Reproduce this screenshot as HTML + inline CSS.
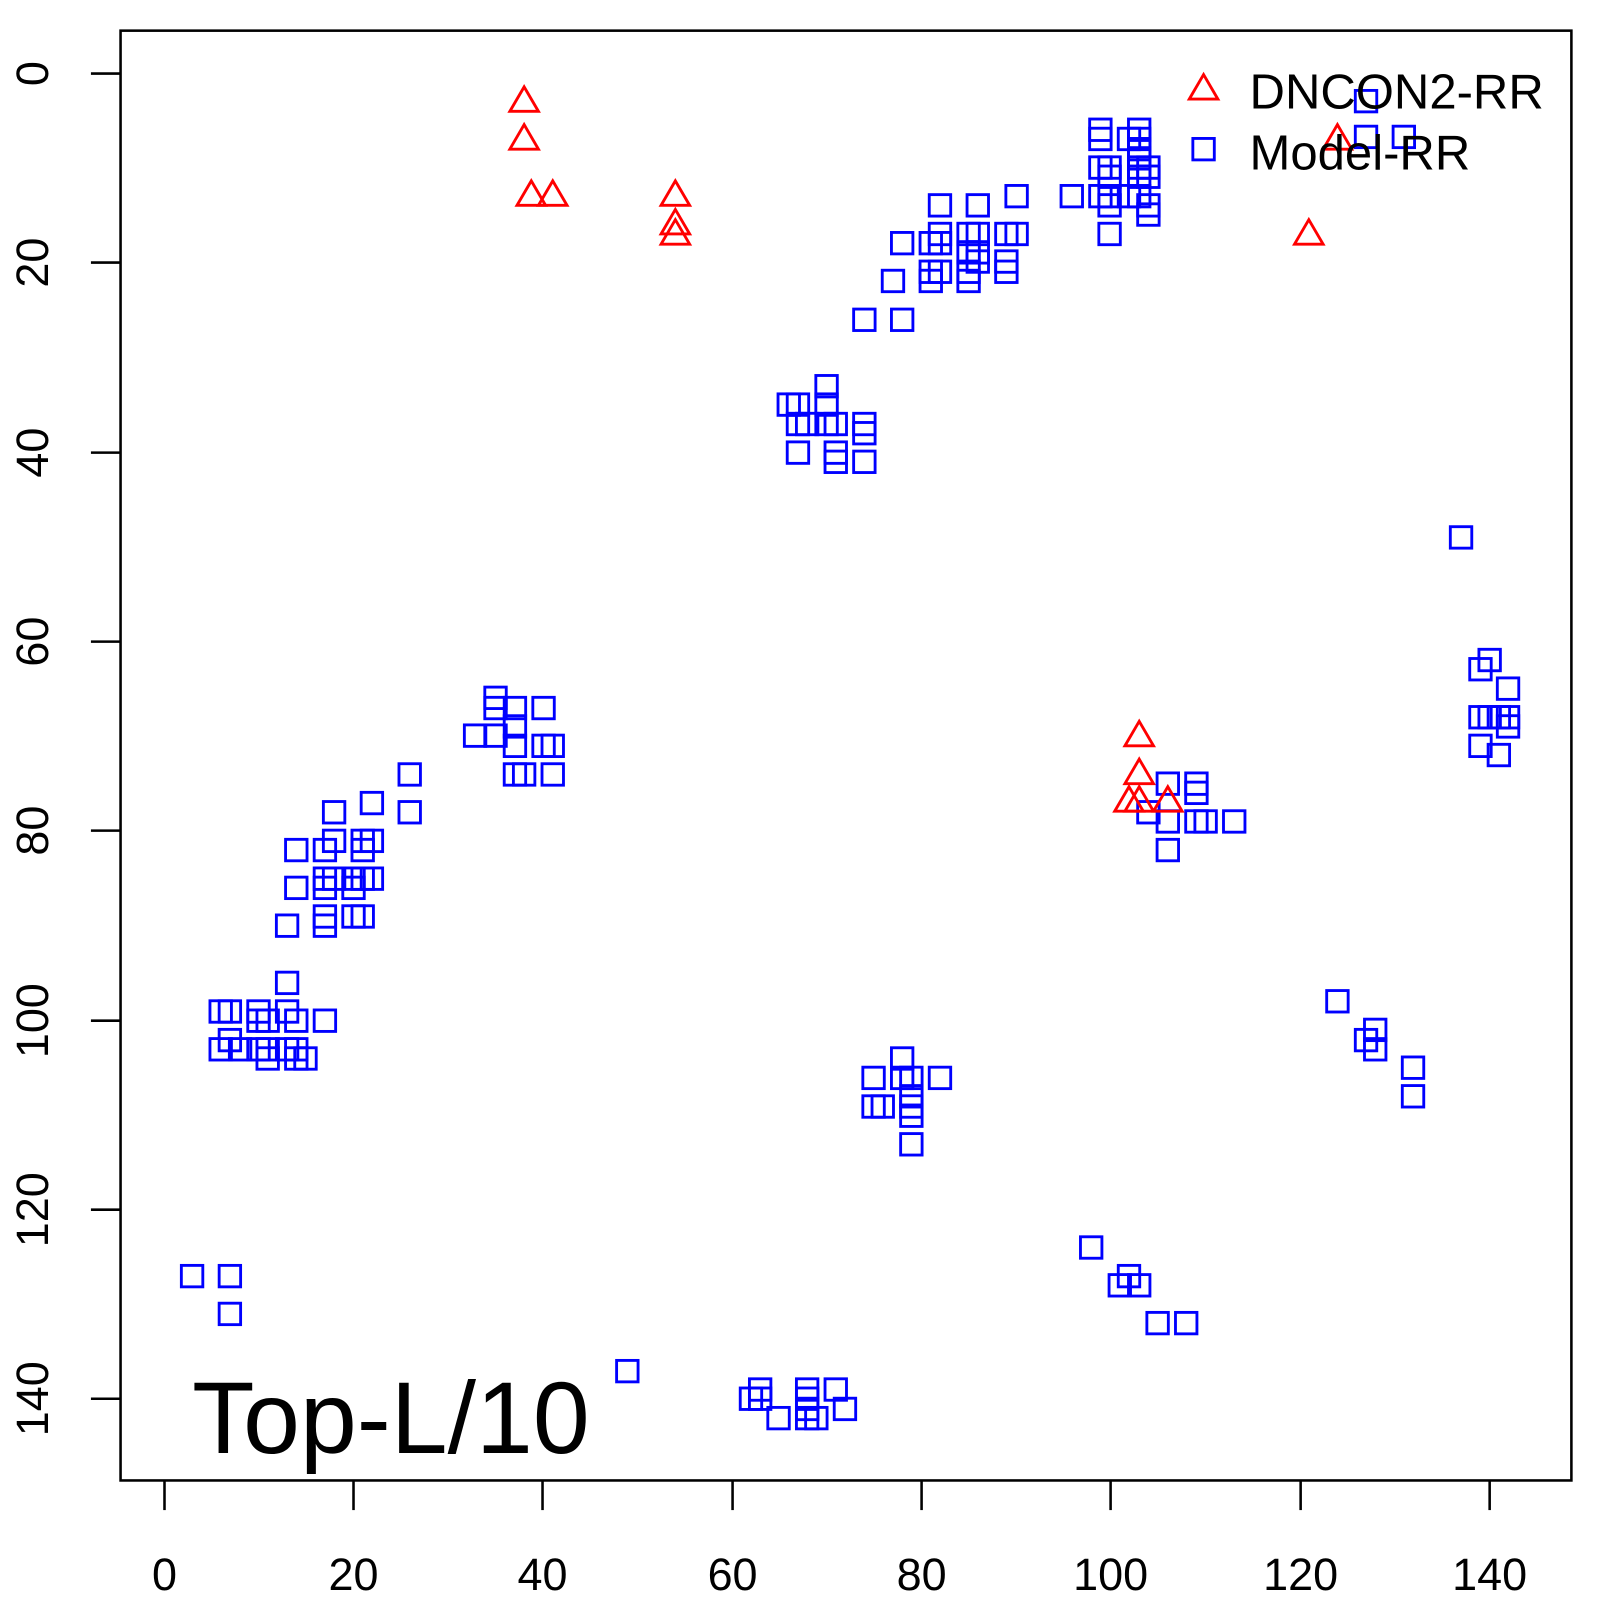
<!DOCTYPE html>
<html><head><meta charset="utf-8"><style>html,body{margin:0;padding:0;background:#fff}svg{display:block}</style></head>
<body>
<svg xmlns="http://www.w3.org/2000/svg" width="1600" height="1600" viewBox="0 0 1566 1566" font-family="Liberation Sans, sans-serif">
<rect x="118" y="30" width="1420" height="1419" fill="none" stroke="#000" stroke-width="2.5"/>
<g stroke="#000" stroke-width="2.5">
<line x1="161" y1="1449" x2="161" y2="1478"/><line x1="346" y1="1449" x2="346" y2="1478"/><line x1="531" y1="1449" x2="531" y2="1478"/><line x1="717" y1="1449" x2="717" y2="1478"/><line x1="902" y1="1449" x2="902" y2="1478"/><line x1="1087" y1="1449" x2="1087" y2="1478"/><line x1="1273" y1="1449" x2="1273" y2="1478"/><line x1="1458" y1="1449" x2="1458" y2="1478"/>
<line x1="118" y1="72" x2="89" y2="72"/><line x1="118" y1="257" x2="89" y2="257"/><line x1="118" y1="443" x2="89" y2="443"/><line x1="118" y1="628" x2="89" y2="628"/><line x1="118" y1="813" x2="89" y2="813"/><line x1="118" y1="999" x2="89" y2="999"/><line x1="118" y1="1184" x2="89" y2="1184"/><line x1="118" y1="1369" x2="89" y2="1369"/>
</g>
<g font-size="44" text-anchor="middle" fill="#000">
<text x="161" y="1556">0</text><text x="346" y="1556">20</text><text x="531" y="1556">40</text><text x="717" y="1556">60</text><text x="902" y="1556">80</text><text x="1087" y="1556">100</text><text x="1273" y="1556">120</text><text x="1458" y="1556">140</text>
<text transform="translate(47,72) rotate(-90)">0</text><text transform="translate(47,257) rotate(-90)">20</text><text transform="translate(47,443) rotate(-90)">40</text><text transform="translate(47,628) rotate(-90)">60</text><text transform="translate(47,813) rotate(-90)">80</text><text transform="translate(47,999) rotate(-90)">100</text><text transform="translate(47,1184) rotate(-90)">120</text><text transform="translate(47,1369) rotate(-90)">140</text>
</g>
<text x="188" y="1422" font-size="100">Top-L/10</text>
<defs>
<rect id="s" x="-10.5" y="-10.5" width="21" height="21" fill="none" stroke="#00f" stroke-width="2.8"/>
<path id="t" d="M0,-14 L14,10 L-14,10 Z" fill="none" stroke="#f00" stroke-width="2.8"/>
</defs>
<g>
<use href="#s" x="1077" y="127"/><use href="#s" x="1077" y="136"/><use href="#s" x="1086" y="164"/><use href="#s" x="1086" y="173"/><use href="#s" x="1077" y="164"/><use href="#s" x="1077" y="192"/><use href="#s" x="1086" y="192"/><use href="#s" x="1049" y="192"/><use href="#s" x="1086" y="201"/><use href="#s" x="1086" y="229"/><use href="#s" x="1105" y="136"/><use href="#s" x="1115" y="127"/><use href="#s" x="1115" y="136"/><use href="#s" x="1115" y="146"/><use href="#s" x="1115" y="155"/><use href="#s" x="1115" y="164"/><use href="#s" x="1115" y="173"/><use href="#s" x="1124" y="164"/><use href="#s" x="1124" y="173"/><use href="#s" x="1124" y="201"/><use href="#s" x="1124" y="210"/><use href="#s" x="1115" y="192"/><use href="#s" x="1105" y="192"/>
<use href="#s" x="920" y="201"/><use href="#s" x="957" y="201"/><use href="#s" x="995" y="192"/><use href="#s" x="920" y="229"/><use href="#s" x="920" y="238"/><use href="#s" x="948" y="229"/><use href="#s" x="957" y="229"/><use href="#s" x="948" y="247"/><use href="#s" x="948" y="266"/><use href="#s" x="957" y="247"/><use href="#s" x="957" y="256"/><use href="#s" x="911" y="238"/><use href="#s" x="911" y="266"/><use href="#s" x="911" y="275"/><use href="#s" x="920" y="266"/><use href="#s" x="948" y="275"/><use href="#s" x="985" y="229"/><use href="#s" x="995" y="229"/><use href="#s" x="985" y="256"/><use href="#s" x="985" y="266"/><use href="#s" x="883" y="238"/><use href="#s" x="874" y="275"/><use href="#s" x="846" y="313"/><use href="#s" x="883" y="313"/>
<use href="#s" x="772" y="396"/><use href="#s" x="781" y="396"/><use href="#s" x="781" y="415"/><use href="#s" x="781" y="443"/><use href="#s" x="809" y="378"/><use href="#s" x="809" y="396"/><use href="#s" x="809" y="415"/><use href="#s" x="818" y="415"/><use href="#s" x="818" y="443"/><use href="#s" x="818" y="452"/><use href="#s" x="846" y="415"/><use href="#s" x="846" y="424"/><use href="#s" x="846" y="452"/><use href="#s" x="790" y="415"/>
<use href="#s" x="1337" y="99"/><use href="#s" x="1337" y="134"/><use href="#s" x="1374" y="134"/>
<use href="#s" x="1430" y="526"/><use href="#s" x="1458" y="646"/><use href="#s" x="1449" y="655"/><use href="#s" x="1476" y="674"/><use href="#s" x="1449" y="702"/><use href="#s" x="1458" y="702"/><use href="#s" x="1467" y="702"/><use href="#s" x="1476" y="702"/><use href="#s" x="1449" y="730"/><use href="#s" x="1467" y="739"/><use href="#s" x="1476" y="711"/>
<use href="#s" x="1143" y="767"/><use href="#s" x="1171" y="767"/><use href="#s" x="1171" y="776"/><use href="#s" x="1124" y="795"/><use href="#s" x="1143" y="804"/><use href="#s" x="1171" y="804"/><use href="#s" x="1180" y="804"/><use href="#s" x="1208" y="804"/><use href="#s" x="1143" y="832"/>
<use href="#s" x="485" y="683"/><use href="#s" x="485" y="693"/><use href="#s" x="504" y="693"/><use href="#s" x="532" y="693"/><use href="#s" x="465" y="720"/><use href="#s" x="485" y="720"/><use href="#s" x="504" y="711"/><use href="#s" x="504" y="730"/><use href="#s" x="532" y="730"/><use href="#s" x="541" y="730"/><use href="#s" x="504" y="758"/><use href="#s" x="513" y="758"/><use href="#s" x="541" y="758"/>
<use href="#s" x="401" y="758"/><use href="#s" x="401" y="795"/><use href="#s" x="364" y="786"/><use href="#s" x="327" y="795"/><use href="#s" x="290" y="832"/><use href="#s" x="318" y="832"/><use href="#s" x="327" y="823"/><use href="#s" x="355" y="823"/><use href="#s" x="364" y="823"/><use href="#s" x="355" y="832"/><use href="#s" x="290" y="869"/><use href="#s" x="318" y="860"/><use href="#s" x="327" y="860"/><use href="#s" x="346" y="860"/><use href="#s" x="355" y="860"/><use href="#s" x="364" y="860"/><use href="#s" x="318" y="869"/><use href="#s" x="346" y="869"/><use href="#s" x="318" y="897"/><use href="#s" x="346" y="897"/><use href="#s" x="355" y="897"/><use href="#s" x="318" y="906"/><use href="#s" x="281" y="906"/>
<use href="#s" x="281" y="962"/><use href="#s" x="216" y="990"/><use href="#s" x="225" y="990"/><use href="#s" x="253" y="990"/><use href="#s" x="281" y="990"/><use href="#s" x="253" y="999"/><use href="#s" x="262" y="999"/><use href="#s" x="290" y="999"/><use href="#s" x="318" y="999"/><use href="#s" x="225" y="1018"/><use href="#s" x="216" y="1027"/><use href="#s" x="235" y="1027"/><use href="#s" x="253" y="1027"/><use href="#s" x="262" y="1027"/><use href="#s" x="281" y="1027"/><use href="#s" x="290" y="1027"/><use href="#s" x="262" y="1036"/><use href="#s" x="290" y="1036"/><use href="#s" x="299" y="1036"/>
<use href="#s" x="188" y="1249"/><use href="#s" x="225" y="1249"/><use href="#s" x="225" y="1286"/><use href="#s" x="614" y="1342"/>
<use href="#s" x="744" y="1360"/><use href="#s" x="735" y="1369"/><use href="#s" x="744" y="1369"/><use href="#s" x="790" y="1360"/><use href="#s" x="790" y="1369"/><use href="#s" x="818" y="1360"/><use href="#s" x="762" y="1388"/><use href="#s" x="790" y="1388"/><use href="#s" x="799" y="1388"/><use href="#s" x="827" y="1379"/><use href="#s" x="790" y="1379"/>
<use href="#s" x="883" y="1036"/><use href="#s" x="855" y="1055"/><use href="#s" x="883" y="1055"/><use href="#s" x="892" y="1055"/><use href="#s" x="920" y="1055"/><use href="#s" x="892" y="1073"/><use href="#s" x="892" y="1083"/><use href="#s" x="855" y="1083"/><use href="#s" x="864" y="1083"/><use href="#s" x="892" y="1092"/><use href="#s" x="892" y="1120"/>
<use href="#s" x="1068" y="1221"/><use href="#s" x="1105" y="1249"/><use href="#s" x="1096" y="1258"/><use href="#s" x="1115" y="1258"/><use href="#s" x="1133" y="1295"/><use href="#s" x="1161" y="1295"/>
<use href="#s" x="1309" y="980"/><use href="#s" x="1337" y="1018"/><use href="#s" x="1346" y="1008"/><use href="#s" x="1346" y="1027"/><use href="#s" x="1383" y="1045"/><use href="#s" x="1383" y="1073"/>
</g>
<g>
<use href="#t" x="513" y="99"/><use href="#t" x="513" y="136"/><use href="#t" x="520" y="191"/><use href="#t" x="541" y="191"/><use href="#t" x="661" y="191"/><use href="#t" x="661" y="219"/><use href="#t" x="661" y="229"/><use href="#t" x="1281" y="229"/><use href="#t" x="1309" y="136"/><use href="#t" x="1115" y="720"/><use href="#t" x="1115" y="757"/><use href="#t" x="1105" y="784"/><use href="#t" x="1115" y="784"/><use href="#t" x="1143" y="784"/>
</g>
<use href="#t" x="1178" y="87"/><use href="#s" x="1178" y="146"/>
<g font-size="48" fill="#000"><text x="1223" y="106">DNCON2-RR</text><text x="1223" y="166">Model-RR</text></g>
</svg>
</body></html>
